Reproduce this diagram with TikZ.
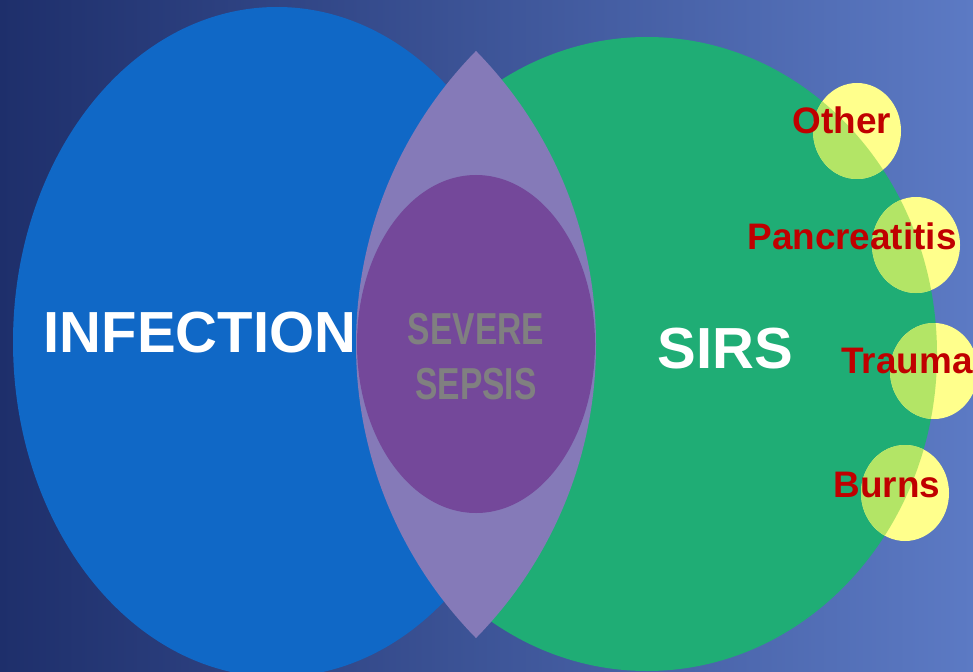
\documentclass[tikz,border=0pt]{standalone}
\usepackage{fontspec}
\setmainfont{Liberation Sans}

\definecolor{bgleft}{HTML}{1E2F6B}
\definecolor{bgright}{HTML}{5C7AC4}
\definecolor{infblue}{HTML}{1068C6}
\definecolor{sirsgreen}{HTML}{1FAD75}
\definecolor{lenslilac}{HTML}{857AB8}
\definecolor{sepsispurple}{HTML}{74489A}
\definecolor{causeyellow}{HTML}{FFFF8C}
\definecolor{causelime}{HTML}{B3E566}
\definecolor{causered}{HTML}{C00000}

\begin{document}
\begin{tikzpicture}[x=.02cm, y=-.02cm,
  bigword/.style={text=white, font=\bfseries\fontsize{33}{36}\selectfont},
  cause/.style={text=causered, font=\bfseries\fontsize{21}{24}\selectfont, inner sep=0pt},
  sepsisword/.style={text=gray, font=\bfseries\fontsize{25.5}{28}\selectfont, inner sep=0pt}]
\useasboundingbox (0,0) rectangle (973,672);
\clip (0,0) rectangle (973,672);
\shade [left color=bgleft, right color=bgright] (0,0) rectangle (973,672);

\fill [infblue] (277,342) ellipse [x radius=264, y radius=335];
\fill [sirsgreen] (647,354) ellipse [x radius=290, y radius=317];

% lens = overlap of two circles
\begin{scope}
\clip (775,344.5) circle [radius=419];
\fill [lenslilac] (177,344.5) circle [radius=419];
\end{scope}
\fill [sepsispurple] (476,344) ellipse [x radius=119, y radius=169];

% small causes, lime where they sit on SIRS
\foreach \cx/\cy in {857/131, 916/245, 934/371, 905/493} {
  \fill [causeyellow] (\cx,\cy) ellipse [x radius=44, y radius=48];
  \begin{scope}
    \clip (\cx,\cy) ellipse [x radius=44, y radius=48];
    \fill [causelime] (647,354) ellipse [x radius=290, y radius=317];
  \end{scope}
}

\node [bigword] (infection) at (200,333) {INFECTION};
\node [bigword] (sirs) at (725,349) {SIRS};
\node [sepsisword] (severe) at (476,329) {\scalebox{.75}[1]{SEVERE}};
\node [sepsisword] (sepsis) at (476,384) {\scalebox{.75}[1]{SEPSIS}};

\node [cause] (other) at (842,120) {Other};
\node [cause] (pancreatitis) at (852,236) {Pancreatitis};
\node [cause, anchor=west] (trauma) at (841,361) {Trauma};
\node [cause] (burns) at (887,485) {Burns};
\end{tikzpicture}
\end{document}
